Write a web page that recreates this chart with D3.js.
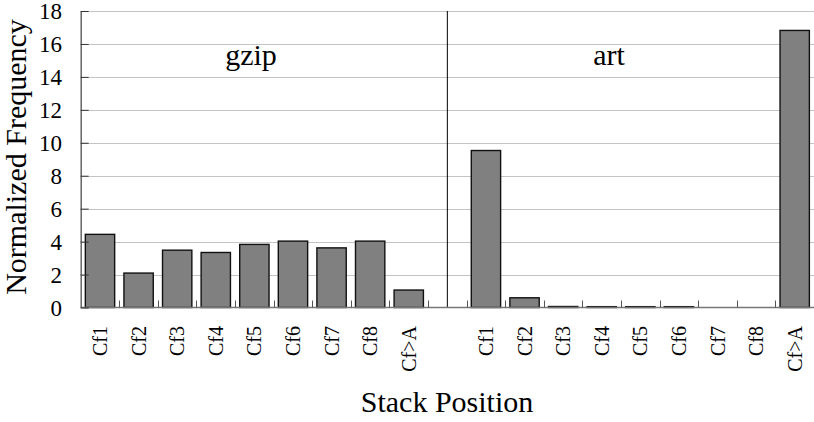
<!DOCTYPE html>
<html>
<head>
<meta charset="utf-8">
<script src="https://cdn.jsdelivr.net/npm/d3@7"></script>
<style>
  body { margin: 0; background: #fff; }
</style>
</head>
<body>
<div id="chart"></div>
<script>
// stack position categories, same for both benchmarks
const categories = ["Cf1", "Cf2", "Cf3", "Cf4", "Cf5", "Cf6", "Cf7", "Cf8", "Cf>A"];
const gzipValues = [4.44, 2.09, 3.48, 3.34, 3.83, 4.03, 3.62, 4.03, 1.06];
const artValues = [9.53, 0.59, 0.06, 0.05, 0.05, 0.05, 0, 0, 16.82];
const yTicks = [0, 2, 4, 6, 8, 10, 12, 14, 16, 18];

const width = 814, height = 422;
const margin = { top: 11, left: 80.7, right: 0, bottom: 114 };

// one slot per bar, plus an empty slot between the two groups
const slots = [
  ...categories.map((c, i) => ({ key: "gzip|" + c, label: c, value: gzipValues[i] })),
  { key: "gap", label: "", value: null },
  ...categories.map((c, i) => ({ key: "art|" + c, label: c, value: artValues[i] })),
];

const svg = d3.select("#chart").append("svg")
  .attr("width", width)
  .attr("height", height)
  .attr("font-family", "'Liberation Serif', 'Times New Roman', serif");

const x = d3.scaleBand()
  .domain(slots.map(d => d.key))
  .range([margin.left, width - margin.right])
  .paddingInner(0.24)
  .paddingOuter(0.12);

const y = d3.scaleLinear()
  .domain([0, 18])
  .range([height - margin.bottom - 0.5, margin.top]);

const slotStart = key => x(key) - x.step() * 0.12;

// grid lines
svg.append("g")
  .selectAll("line")
  .data(yTicks.filter(t => t > 0))
  .join("line")
  .attr("x1", margin.left)
  .attr("x2", width)
  .attr("y1", d => Math.round(y(d)) + 0.5)
  .attr("y2", d => Math.round(y(d)) + 0.5)
  .attr("stroke", "#c4c4c4")
  .attr("stroke-width", 1);

// divider between gzip and art
svg.append("line")
  .attr("x1", x("gap") + x.bandwidth() / 2)
  .attr("x2", x("gap") + x.bandwidth() / 2)
  .attr("y1", y(18))
  .attr("y2", y(0))
  .attr("stroke", "#000")
  .attr("stroke-width", 1);

// bars
svg.append("g")
  .selectAll("rect")
  .data(slots.filter(d => d.value > 0))
  .join("rect")
  .attr("x", d => x(d.key))
  .attr("width", x.bandwidth())
  .attr("y", d => y(d.value))
  .attr("height", d => y(0) - y(d.value))
  .attr("fill", "#808080")
  .attr("stroke", "#111")
  .attr("stroke-width", 1.4);

// x baseline and small ticks at slot boundaries
svg.append("line")
  .attr("x1", margin.left)
  .attr("x2", width)
  .attr("y1", y(0))
  .attr("y2", y(0))
  .attr("stroke", "#777")
  .attr("stroke-width", 1.5);

svg.append("g")
  .selectAll("line")
  .data(slots.slice(1))
  .join("line")
  .attr("x1", d => Math.round(slotStart(d.key)) + 0.5)
  .attr("x2", d => Math.round(slotStart(d.key)) + 0.5)
  .attr("y1", y(0))
  .attr("y2", y(0) - 7)
  .attr("stroke", "#555")
  .attr("stroke-width", 1);

// y axis, ticks pointing inwards
const yAxis = svg.append("g")
  .attr("transform", `translate(${margin.left},0)`)
  .call(d3.axisRight(y).tickValues(yTicks).tickSize(8).tickSizeOuter(0).tickFormat(""));
yAxis.select(".domain").attr("stroke", "#666").attr("stroke-width", 1.5);
yAxis.selectAll(".tick line").attr("stroke", "#333");

svg.append("g")
  .selectAll("text")
  .data(yTicks)
  .join("text")
  .attr("x", 62)
  .attr("y", d => y(d))
  .attr("dy", "0.36em")
  .attr("text-anchor", "end")
  .attr("font-size", 23)
  .text(d => d);

// rotated category labels
svg.append("g")
  .selectAll("text")
  .data(slots.filter(d => d.label))
  .join("text")
  .attr("transform", d => `translate(${x(d.key) + x.bandwidth() / 2 + 7},326) rotate(-90)`)
  .attr("text-anchor", "end")
  .attr("font-size", 20)
  .text(d => d.label);

// group labels
svg.append("text")
  .attr("x", 251)
  .attr("y", 65)
  .attr("text-anchor", "middle")
  .attr("font-size", 30)
  .text("gzip");

svg.append("text")
  .attr("x", 609)
  .attr("y", 65)
  .attr("text-anchor", "middle")
  .attr("font-size", 30)
  .text("art");

// axis titles
svg.append("text")
  .attr("x", 447)
  .attr("y", 412)
  .attr("text-anchor", "middle")
  .attr("font-size", 30)
  .text("Stack Position");

svg.append("text")
  .attr("transform", "translate(26,157) rotate(-90)")
  .attr("text-anchor", "middle")
  .attr("font-size", 30)
  .text("Normalized Frequency");
</script>
</body>
</html>
